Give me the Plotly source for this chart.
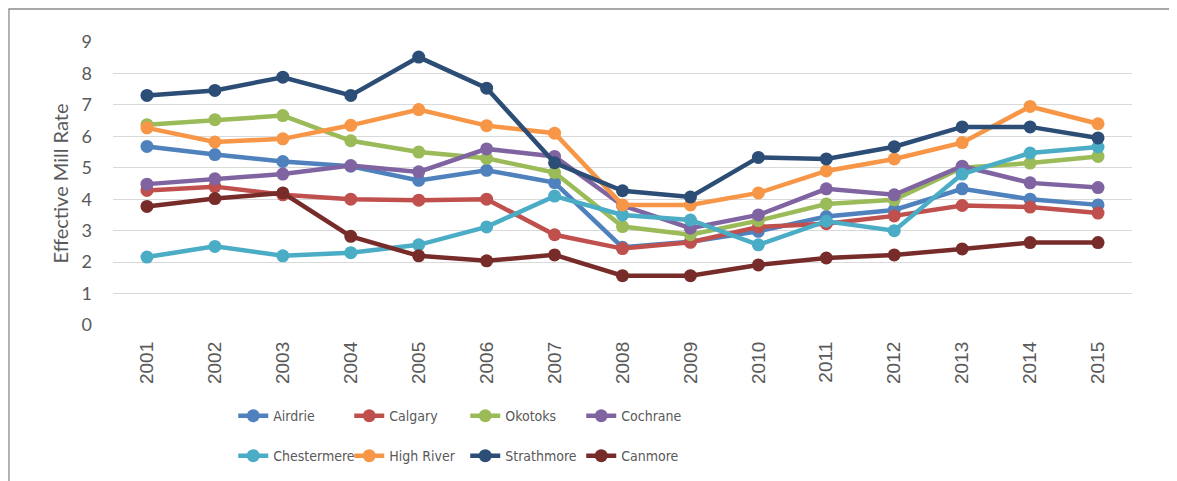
import plotly.graph_objects as go

years = [str(y) for y in range(2001, 2016)]

airdrie = [5.68, 5.42, 5.20, 5.05, 4.60, 4.92, 4.53, 2.47, 2.65, 2.98, 3.45, 3.66, 4.33, 4.00, 3.82]
calgary = [4.28, 4.40, 4.14, 4.00, 3.97, 4.00, 2.87, 2.43, 2.63, 3.12, 3.22, 3.47, 3.80, 3.75, 3.56]
okotoks = [6.37, 6.53, 6.66, 5.86, 5.50, 5.30, 4.85, 3.13, 2.87, 3.32, 3.85, 3.98, 5.00, 5.15, 5.36]
cochrane = [4.48, 4.65, 4.80, 5.07, 4.87, 5.60, 5.36, 3.80, 3.08, 3.50, 4.33, 4.14, 5.05, 4.52, 4.37]
chestermere = [2.16, 2.50, 2.20, 2.30, 2.55, 3.12, 4.10, 3.50, 3.34, 2.55, 3.30, 3.00, 4.80, 5.47, 5.66]
high_river = [6.27, 5.82, 5.92, 6.35, 6.85, 6.34, 6.10, 3.82, 3.82, 4.20, 4.90, 5.28, 5.80, 6.95, 6.40]
strathmore = [7.30, 7.46, 7.88, 7.30, 8.52, 7.53, 5.16, 4.27, 4.07, 5.33, 5.28, 5.67, 6.30, 6.30, 5.95]
canmore = [3.77, 4.02, 4.20, 2.82, 2.20, 2.04, 2.23, 1.57, 1.57, 1.91, 2.13, 2.23, 2.42, 2.62, 2.62]

y_ticks = [0, 1, 2, 3, 4, 5, 6, 7, 8, 9]

series = [
    ("Airdrie", airdrie, "#4F81BD", "legend"),
    ("Calgary", calgary, "#C0504D", "legend"),
    ("Okotoks", okotoks, "#9BBB59", "legend"),
    ("Cochrane", cochrane, "#8064A2", "legend"),
    ("Chestermere", chestermere, "#4BACC6", "legend2"),
    ("High River", high_river, "#F79646", "legend2"),
    ("Strathmore", strathmore, "#2C4D75", "legend2"),
    ("Canmore", canmore, "#772C2A", "legend2"),
]

fig = go.Figure()
for name, vals, color, leg in series:
    fig.add_trace(go.Scatter(
        x=years, y=vals, name=name, mode="lines+markers",
        line=dict(color=color, width=4.5),
        marker=dict(color=color, size=13),
        legend=leg,
    ))

font_family = "Lato, 'Open Sans', sans-serif"
narrow_family = "'Liberation Sans Narrow', 'DejaVu Sans Condensed', 'Roboto Condensed', sans-serif"
text_col = "#595959"

fig.update_xaxes(
    type="category", range=[-0.5, 14.5],
    tickangle=-90, showgrid=False, zeroline=False,
    showline=False, ticks="", ticklabelstandoff=12,
    tickfont=dict(size=19, color=text_col, family="'Liberation Sans', Arial, sans-serif"),
)
fig.update_yaxes(
    range=[0, 9], tickvals=y_ticks, showgrid=True,
    gridcolor="#D9D9D9", gridwidth=1.3, zeroline=False,
    showline=False, ticklabelstandoff=20,
    tickfont=dict(size=18, color=text_col),
    title=dict(text="Effective Mill Rate", font=dict(size=20, color=text_col), standoff=7),
)

legend_common = dict(
    orientation="h", xanchor="left", yanchor="middle",
    font=dict(size=14, color=text_col, family=narrow_family),
    entrywidth=71, entrywidthmode="pixels",
    bgcolor="rgba(0,0,0,0)", itemwidth=30,
)

# outer chart frame (page body adds an 8px offset)
fig.add_shape(type="rect", xref="paper", yref="paper",
              x0=-0.1021, x1=1.2, y0=-0.8, y1=1.1166,
              line=dict(color="#8C8C8C", width=1.3), fillcolor="rgba(0,0,0,0)")

fig.update_layout(
    width=1169, height=473,
    margin=dict(l=105, r=45, t=34, b=156, autoexpand=False),
    paper_bgcolor="white", plot_bgcolor="white",
    font=dict(family=font_family, color=text_col),
    legend=dict(x=0.118, y=-0.322, **legend_common),
    legend2=dict(x=0.118, y=-0.463, **legend_common),
)

fig.write_html("out.html")
